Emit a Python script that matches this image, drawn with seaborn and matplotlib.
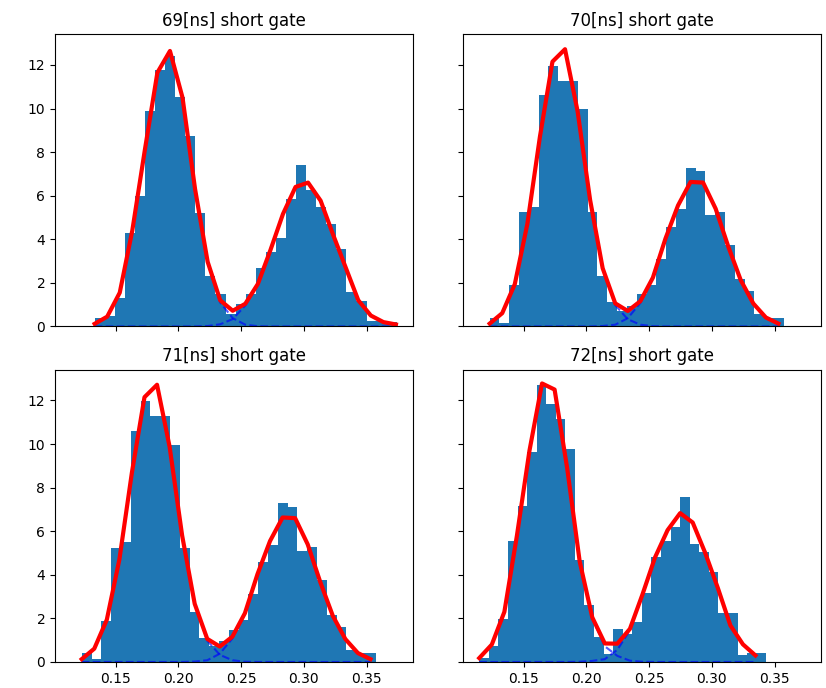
import numpy as np
import pandas as pd
import matplotlib
matplotlib.use("Agg")
import matplotlib.pyplot as plt
import seaborn as sns

# Panel titles (gate length)
titles = ["69[ns] short gate", "70[ns] short gate",
          "71[ns] short gate", "72[ns] short gate"]

# First / last histogram bin edge of each gate (30 bins each)
range_69 = (0.1333, 0.3739)
range_70 = (0.1230, 0.3572)
range_71 = (0.1230, 0.3572)
range_72 = (0.1147, 0.3433)

# Normalised histogram heights (density)
hist_69 = [0.40, 0.50, 1.30, 4.30, 6.00, 9.90, 11.75, 12.40, 10.55, 8.73,
           5.20, 2.32, 1.50, 0.58, 1.05, 1.50, 2.70, 3.40, 4.05, 5.85,
           7.42, 6.26, 5.47, 4.70, 3.54, 1.57, 1.15, 0.24, 0.24, 0.20]
hist_70 = [0.40, 0.15, 1.88, 5.25, 5.50, 10.60, 11.96, 11.28, 11.28, 9.96,
           5.25, 2.31, 1.10, 0.72, 0.95, 1.48, 1.91, 3.10, 4.57, 5.38,
           7.28, 7.12, 5.10, 5.26, 3.76, 2.16, 1.62, 0.57, 0.39, 0.39]
hist_71 = [0.40, 0.15, 1.88, 5.25, 5.50, 10.60, 11.96, 11.28, 11.28, 9.96,
           5.25, 2.31, 1.10, 0.72, 0.95, 1.48, 1.91, 3.10, 4.57, 5.38,
           7.28, 7.12, 5.10, 5.26, 3.76, 2.16, 1.62, 0.57, 0.39, 0.39]
hist_72 = [0.20, 0.73, 1.98, 5.57, 7.17, 9.64, 12.73, 11.82, 11.16, 9.79,
           4.70, 2.62, 1.14, 0.38, 1.52, 1.30, 1.83, 3.17, 4.83, 5.57,
           6.18, 7.58, 5.41, 5.03, 4.15, 2.24, 2.24, 0.34, 0.41, 0.41]

# Fitted gaussian components, sampled every 0.01 from the first bin edge
fit_step = 0.01
comp1_69 = [0.12, 0.45, 1.55, 4.40, 8.10, 11.65, 12.64, 10.50, 6.30, 2.95,
            1.10, 0.38, 0.08, 0.01, 0.00, 0.00, 0.00, 0.00, 0.00, 0.00,
            0.00, 0.00, 0.00, 0.00, 0.00]
comp2_69 = [0.00, 0.00, 0.00, 0.00, 0.00, 0.00, 0.00, 0.00, 0.00, 0.02,
            0.10, 0.34, 0.96, 1.94, 3.50, 5.16, 6.40, 6.60, 5.77, 4.20,
            2.70, 1.20, 0.50, 0.20, 0.09]
comp1_70 = [0.13, 0.61, 1.94, 4.70, 8.70, 12.15, 12.72, 9.88, 5.80, 2.65,
            0.98, 0.33, 0.08, 0.01, 0.00, 0.00, 0.00, 0.00, 0.00, 0.00,
            0.00, 0.00, 0.00, 0.00]
comp2_70 = [0.00, 0.00, 0.00, 0.00, 0.00, 0.00, 0.00, 0.00, 0.00, 0.02,
            0.08, 0.38, 1.08, 2.23, 4.03, 5.55, 6.63, 6.60, 5.40, 3.67,
            2.12, 1.05, 0.41, 0.13]
comp1_71 = [0.13, 0.61, 1.94, 4.70, 8.70, 12.15, 12.72, 9.88, 5.80, 2.65,
            0.98, 0.33, 0.08, 0.01, 0.00, 0.00, 0.00, 0.00, 0.00, 0.00,
            0.00, 0.00, 0.00, 0.00]
comp2_71 = [0.00, 0.00, 0.00, 0.00, 0.00, 0.00, 0.00, 0.00, 0.00, 0.02,
            0.08, 0.38, 1.08, 2.23, 4.03, 5.55, 6.63, 6.60, 5.40, 3.67,
            2.12, 1.05, 0.41, 0.13]
comp1_72 = [0.18, 0.80, 2.30, 5.80, 9.70, 12.78, 12.50, 8.90, 4.60, 2.00,
            0.72, 0.28, 0.06, 0.01, 0.00, 0.00, 0.00, 0.00, 0.00, 0.00,
            0.00, 0.00, 0.00]
comp2_72 = [0.00, 0.00, 0.00, 0.00, 0.00, 0.00, 0.00, 0.00, 0.01, 0.05,
            0.13, 0.56, 1.46, 3.09, 4.80, 6.05, 6.83, 6.40, 5.00, 3.40,
            1.68, 0.81, 0.30]

panels = [
    (range_69, hist_69, comp1_69, comp2_69),
    (range_70, hist_70, comp1_70, comp2_70),
    (range_71, hist_71, comp1_71, comp2_71),
    (range_72, hist_72, comp1_72, comp2_72),
]

fig, axes = plt.subplots(2, 2, sharex=True, sharey=True,
                         figsize=(8.26, 6.88), dpi=100)
fig.subplots_adjust(left=0.0666, right=0.9939, top=0.9506, bottom=0.0378,
                    wspace=0.1397, hspace=0.1473)

for ax, title, (rng, heights, c1, c2) in zip(axes.flat, titles, panels):
    n_bins = len(heights)
    edges = np.linspace(rng[0], rng[1], n_bins + 1)
    bars = pd.DataFrame({"center": 0.5 * (edges[:-1] + edges[1:]),
                         "height": heights})
    sns.histplot(data=bars, x="center", weights="height", bins=n_bins,
                 binrange=rng, stat="count", color="#1f77b4", alpha=1.0,
                 linewidth=0, ax=ax)

    fit = pd.DataFrame({"x": rng[0] + fit_step * np.arange(len(c1)),
                        "c1": c1, "c2": c2})
    fit["total"] = fit["c1"] + fit["c2"]
    # individual gaussians (dashed) under the summed fit (red)
    for col in ("c1", "c2"):
        sns.lineplot(data=fit, x="x", y=col, color="b", linestyle="--",
                     linewidth=1.5, alpha=0.65, sort=False, ax=ax)
    sns.lineplot(data=fit, x="x", y="total", color="r", linewidth=3,
                 sort=False, ax=ax)

    ax.set_title(title)
    ax.set_xlabel("")
    ax.set_ylabel("")

axes[1, 0].set_xticks([0.15, 0.20, 0.25, 0.30, 0.35])
axes[1, 0].set_yticks([0, 2, 4, 6, 8, 10, 12])

fig.savefig("out.png", dpi=100)
